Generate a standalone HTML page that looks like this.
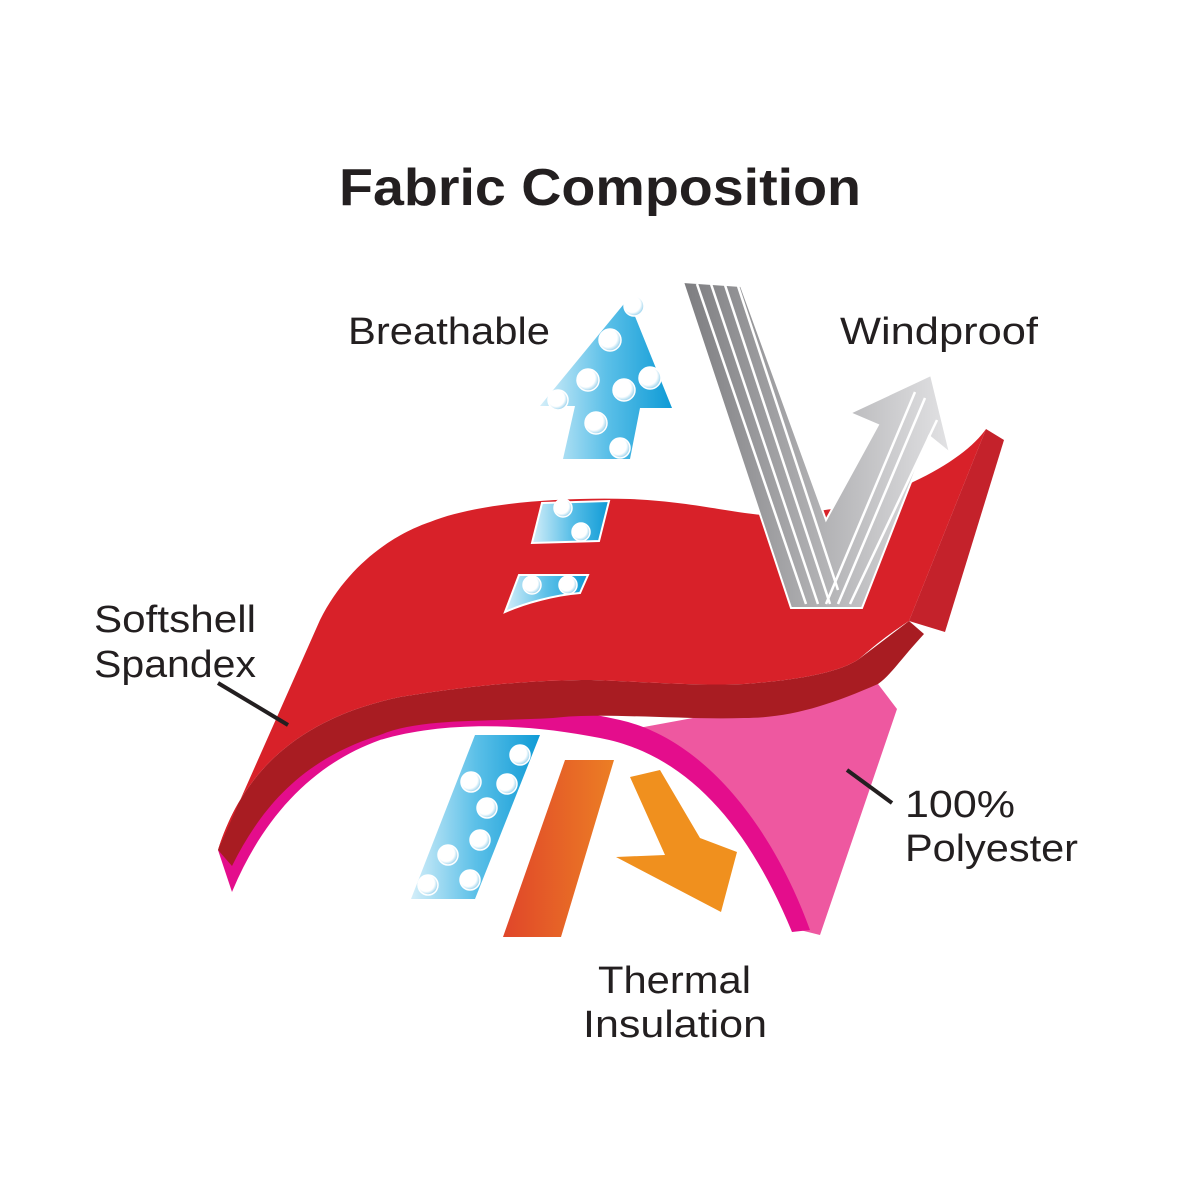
<!DOCTYPE html>
<html><head><meta charset="utf-8"><style>
html,body{margin:0;padding:0;background:#fff;}
svg{display:block;}
text{font-family:"Liberation Sans",sans-serif;fill:#231f20;}
</style></head><body>
<svg width="1200" height="1200" viewBox="0 0 1200 1200" xmlns="http://www.w3.org/2000/svg">
<defs>
<linearGradient id="blue" x1="0" y1="0" x2="1" y2="0">
<stop offset="0" stop-color="#d4eef9"/><stop offset="0.5" stop-color="#5cc0e8"/><stop offset="1" stop-color="#0f9bd6"/></linearGradient>
<linearGradient id="gray" x1="0" y1="0" x2="1" y2="0">
<stop offset="0" stop-color="#7d7d80"/><stop offset="1" stop-color="#e2e2e4"/></linearGradient>
<linearGradient id="orange" x1="0" y1="0" x2="1" y2="0">
<stop offset="0" stop-color="#e0462a"/><stop offset="1" stop-color="#ec7e24"/></linearGradient>
<radialGradient id="dot" cx="0.4" cy="0.4" r="0.6">
<stop offset="0" stop-color="#fff"/><stop offset="0.7" stop-color="#fff"/><stop offset="1" stop-color="#9fd5ee"/></radialGradient>
</defs>

<text x="600" y="205" text-anchor="middle" font-size="52" font-weight="bold" textLength="522" lengthAdjust="spacingAndGlyphs">Fabric Composition</text>
<text x="348" y="344" font-size="38" textLength="202" lengthAdjust="spacingAndGlyphs">Breathable</text>
<text x="840" y="344" font-size="38" textLength="198" lengthAdjust="spacingAndGlyphs">Windproof</text>
<text x="94" y="632" font-size="38" textLength="162" lengthAdjust="spacingAndGlyphs">Softshell</text>
<text x="94" y="677" font-size="38" textLength="162" lengthAdjust="spacingAndGlyphs">Spandex</text>
<text x="905" y="817" font-size="38" textLength="110" lengthAdjust="spacingAndGlyphs">100%</text>
<text x="905" y="861" font-size="38" textLength="173" lengthAdjust="spacingAndGlyphs">Polyester</text>
<text x="598" y="993" font-size="38" textLength="153" lengthAdjust="spacingAndGlyphs">Thermal</text>
<text x="583" y="1037" font-size="38" textLength="184" lengthAdjust="spacingAndGlyphs">Insulation</text>

<!-- blue up arrow -->
<polygon points="540,406 628,299 672,408 640,408 630,459 563,459 575,406" fill="url(#blue)"/>
<g fill="url(#dot)" stroke="#fff" stroke-width="1.5">
<circle cx="634" cy="306" r="10"/><circle cx="610" cy="340" r="11"/><circle cx="588" cy="380" r="11"/>
<circle cx="624" cy="390" r="11"/><circle cx="650" cy="378" r="11"/><circle cx="596" cy="423" r="11"/>
<circle cx="620" cy="448" r="10"/><circle cx="558" cy="400" r="10"/></g>

<!-- pink polyester -->
<path d="M600,735 L878,684 L897,709 L820,935 L800,930 C760,820 690,745 600,735 Z" fill="#ee58a0"/>

<!-- orange arrows -->
<polygon points="503,937 561,937 614,760 565,760" fill="url(#orange)"/>
<polygon points="630,777 660,770 700,838 737,852 721,912 616,857 665,855" fill="#f0901e"/>

<!-- blue lower arrow -->
<polygon points="411,899 475,899 540,735 475,735" fill="url(#blue)"/>
<g fill="url(#dot)" stroke="#fff" stroke-width="1.5">
<circle cx="520" cy="755" r="10"/><circle cx="471" cy="782" r="10"/><circle cx="507" cy="784" r="10"/>
<circle cx="487" cy="808" r="10"/><circle cx="480" cy="840" r="10"/><circle cx="448" cy="855" r="10"/>
<circle cx="470" cy="880" r="10"/><circle cx="428" cy="885" r="10"/></g>

<!-- magenta layer -->
<path d="M218,850 C260,770 330,722 400,715 C500,705 560,706 620,720 C700,738 770,820 810,930 L792,932 C750,830 690,755 600,738 C520,722 440,722 380,740 C310,765 262,820 232,892 Z" fill="#e40d8c"/>

<!-- red dark thickness -->
<path d="M218,850 C240,780 290,720 400,697 C480,684 540,680 591,680 C650,682 700,686 744,684 C800,680 840,672 859,659 L909,621 L924,634 C900,660 890,676 878,684 C830,705 790,718 744,718 C680,720 600,712 553,718 C480,722 420,718 380,735 C300,760 260,810 232,866 Z" fill="#a81c22"/>
<polygon points="986,429 1004,440 945,632 909,621" fill="#c4222b"/>
<path d="M218,850 L320,620 C350,560 400,532 430,522 C477,503 560,497 630,499 C700,502 740,516 783,516 C810,514 820,510 833,509 C870,500 900,490 913,482 C950,465 975,445 986,429 L909,621 C880,640 870,650 859,659 C840,672 800,680 744,684 C700,686 650,682 591,680 C540,680 480,684 400,697 C290,720 240,780 218,850 Z" fill="#d82129"/>

<!-- blue cutouts -->
<polygon points="542,503 609,501 599,541 532,543" fill="url(#blue)" stroke="#fff" stroke-width="2"/>
<path d="M519,575 L588,575 L580,593 C555,595 525,603 505,612 Z" fill="url(#blue)" stroke="#fff" stroke-width="2"/>
<g fill="url(#dot)" stroke="#fff" stroke-width="1.5">
<circle cx="563" cy="508" r="9"/><circle cx="581" cy="532" r="9"/><circle cx="532" cy="585" r="9"/><circle cx="568" cy="585" r="9"/></g>

<!-- gray V arrow on top -->
<polygon points="683,282 741,286 826,520 878,425 850,413 931,375 950,453 929,436 862,608 791,608" fill="url(#gray)" stroke="#fff" stroke-width="2"/>
<g stroke="#fff" stroke-width="2.5">
<line x1="697" y1="284" x2="806" y2="604"/><line x1="711" y1="284" x2="818" y2="604"/>
<line x1="725" y1="285" x2="830" y2="604"/><line x1="738" y1="286" x2="838" y2="590"/>
<line x1="826" y1="604" x2="915" y2="392"/><line x1="838" y1="604" x2="925" y2="398"/>
<line x1="850" y1="604" x2="937" y2="420"/></g>

<!-- leader lines -->
<line x1="218" y1="683" x2="288" y2="725" stroke="#231f20" stroke-width="4"/>
<line x1="847" y1="770" x2="892" y2="803" stroke="#231f20" stroke-width="4"/>
</svg>
</body></html>
